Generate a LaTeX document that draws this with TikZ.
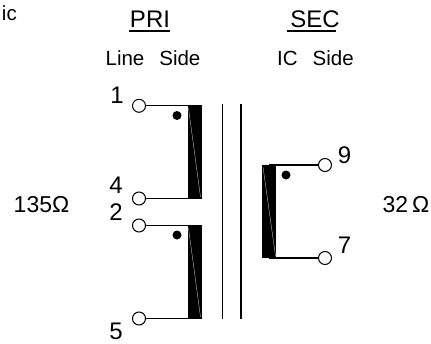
\documentclass[tikz,border=0pt]{standalone}
\usepackage{fontspec}
\setmainfont{Liberation Sans}
\tikzset{x=1pt,y=-1pt,
 term/.style={circle,draw=black,fill=white,line width=1pt,minimum size=13pt,inner sep=0pt},
 wire/.style={line width=1.3pt,draw=black},
 core/.style={line width=1.3pt,draw=black},
 coil/.style={fill=black,draw=none},
 slant/.style={draw=white,line width=.25pt},
 phase/.style={circle,fill=black,minimum size=9pt,inner sep=0pt},
 lab/.style={inner sep=0pt,font=\fontsize{20.5}{22}\selectfont},
 num/.style={inner sep=0pt,font=\fontsize{24}{26}\selectfont},
 head/.style={inner sep=0pt,font=\fontsize{24}{26}\selectfont},
 imp/.style={inner sep=0pt,font=\fontsize{23}{25}\selectfont}}
\begin{document}
\begin{tikzpicture}
\useasboundingbox (0,0) rectangle (431,343);
\fill[white] (0,0) rectangle (431,343);
% core
\coordinate (c1t) at (222.5,104); \coordinate (c1b) at (222.5,319);
\coordinate (c2t) at (241,104); \coordinate (c2b) at (241,319);
\draw[core] (c1t) -- (c1b);
\draw[core] (c2t) -- (c2b);
% coils
\fill[coil] (188,105) rectangle (202,199);
\draw[slant] (188.5,108) -- (200.5,197);
\fill[coil] (188,225) rectangle (202,319);
\draw[slant] (188.5,228) -- (200.5,317);
\fill[coil] (262,165) rectangle (276,258);
\draw[slant] (263,167) -- (275.5,256);
\coordinate (p1) at (195,105.8); \coordinate (p4) at (195,198.5);
\coordinate (p2) at (195,225.5); \coordinate (p5) at (195,318.5);
\coordinate (s9) at (269,165); \coordinate (s7) at (269,258);
% terminals
\node[term] (t1) at (139,105.8) {};
\node[term] (t4) at (139,198.5) {};
\node[term] (t2) at (139,225.5) {};
\node[term] (t5) at (139,318.5) {};
\node[term] (t9) at (325,165) {};
\node[term] (t7) at (325,258) {};
\draw[wire] (t1) -- (p1);
\draw[wire] (t4) -- (p4);
\draw[wire] (t2) -- (p2);
\draw[wire] (t5) -- (p5);
\draw[wire] (t9) -- (s9);
\draw[wire] (t7) -- (s7);
% dots
\node[phase] (d1) at (177,115.5) {};
\node[phase] (d2) at (177,235) {};
\node[phase] (d3) at (286,175) {};
% labels
\node[num] (n1) at (117,95) {1};
\node[num] (n4) at (116,185) {4};
\node[num] (n2) at (116,212) {2};
\node[num] (n5) at (116,331) {5};
\node[num] (n9) at (344.5,155) {9};
\node[num] (n7) at (344.5,245) {7};
\node[head] (pri) at (150,19) {PRI};
\node[head] (sec) at (315,19) {SEC};
\coordinate (u1a) at (129,31); \coordinate (u1b) at (170,31);
\coordinate (u2a) at (287,31); \coordinate (u2b) at (336,31);
\draw[line width=1.3pt] (u1a) -- (u1b);
\draw[line width=1.3pt] (u2a) -- (u2b);
\node[lab] (ls) at (153,58) {Line\hspace{15pt}Side};
\node[lab] (is) at (315.5,58) {IC\hspace{15pt}Side};
\node[imp] (z1) at (41.5,204.5) {135Ω};
\node[imp] (z2) at (406,204.5) {32\hspace{4pt}Ω};
\node[lab,anchor=base east] (ic) at (17,20) {ic};
\end{tikzpicture}
\end{document}
